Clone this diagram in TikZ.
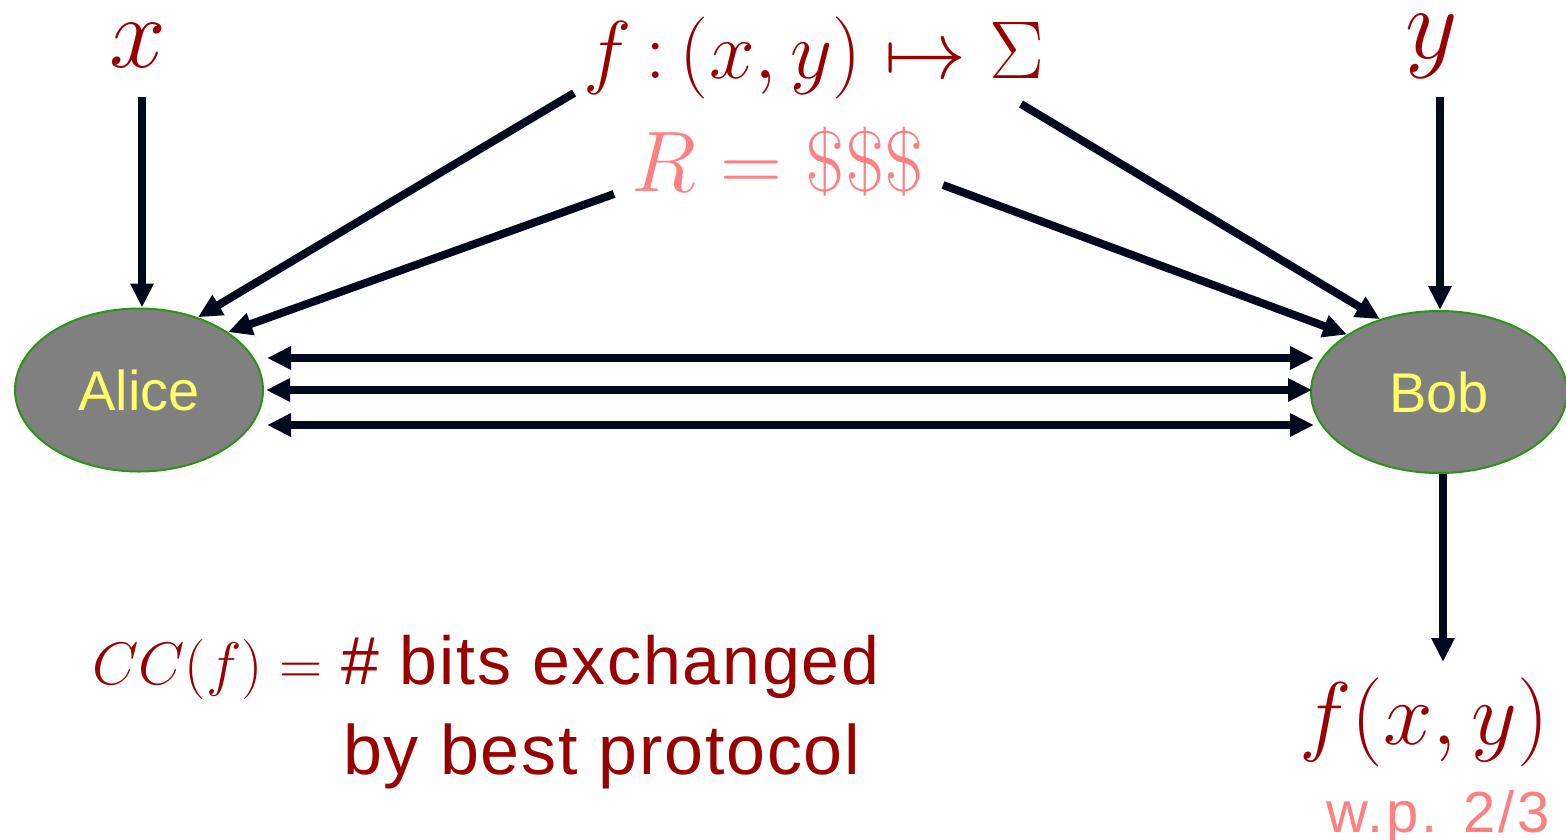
\RequirePackage{fix-cm}
\documentclass[tikz,border=0pt]{standalone}
\usepackage[no-math]{fontspec}
\setmainfont{Liberation Sans}
\usetikzlibrary{arrows.meta,shapes.geometric}
\definecolor{dred}{RGB}{153,0,0}
\definecolor{pinkc}{RGB}{255,128,128}
\definecolor{navy}{RGB}{0,8,30}
\definecolor{egreen}{RGB}{40,150,20}
\definecolor{ytext}{RGB}{255,255,102}
\begin{document}
\begin{tikzpicture}[x=1pt,y=-1pt,
  party/.style={ellipse,draw=egreen,line width=2pt,fill={rgb,255:red,128;green,128;blue,128},text=ytext,inner sep=0pt},
  conn/.style={draw=navy,line width=8pt,-{Triangle[length=24pt,width=22pt]}},
  dbl/.style={draw=navy,line width=8pt,{Triangle[length=24pt,width=22pt]}-{Triangle[length=24pt,width=22pt]}},
  lbl/.style={text=dred,inner sep=0pt},
  pnk/.style={text=pinkc,inner sep=0pt}]
\useasboundingbox (0,0) rectangle (1566,839);
\node[party,minimum width=248pt,minimum height=163pt] (alice) at (139,390) {\fontsize{56}{60}\selectfont Alice};
\node[party,minimum width=256pt,minimum height=162pt] (bob) at (1439,392) {\fontsize{56}{60}\selectfont Bob};
\node[lbl] (xl) at (138,46) {\fontsize{102}{110}\selectfont$x$};
\node[lbl] (yl) at (1432,46) {\fontsize{102}{110}\selectfont$y$};
\node[lbl] (fl) at (814,58) {\fontsize{82}{90}\selectfont$f\,{:}\,(x,y)\mapsto\Sigma$};
\node[pnk] (rl) at (778,162) {\fontsize{86}{90}\selectfont$R=\$\$\$$};
\node[lbl] (fxy) at (1424,722) {\fontsize{89}{90}\selectfont$f(x,y)$};
\node[pnk,anchor=base east] (wp) at (1550,832) {\fontsize{58}{60}\selectfont\addfontfeatures{LetterSpace=5}w.p. 2/3};
\node[lbl,anchor=base west] (cc1) at (92,684) {\fontsize{68}{70}\selectfont{\fontsize{60}{70}\selectfont$CC(f)=$} {\addfontfeatures{LetterSpace=2.7}\# bits exchanged}};
\node[lbl,anchor=base west] (cc2) at (343,774) {\fontsize{70}{70}\selectfont\addfontfeatures{LetterSpace=2.5}by best protocol};
\coordinate (xs) at (142,97);
\coordinate (ys) at (1440,97);
\coordinate (fa) at (574,93);
\coordinate (fb) at (1021,104);
\coordinate (ra) at (614,194);
\coordinate (rb) at (943,185);
\coordinate (out) at (1443,662);
\draw[conn] (xs) -- (xs |- alice.north);
\draw[conn] (ys) -- (ys |- bob.north);
\draw[conn] (fa) -- (alice.51);
\draw[conn] (ra) -- (alice.33);
\draw[conn] (fb) -- (bob.129);
\draw[conn] (rb) -- (bob.148);
\draw[conn] (out |- bob.south) -- (out);
\draw[dbl] ([xshift=3pt]alice.east |- 0,358) -- ([xshift=4pt]bob.west |- 0,358);
\draw[dbl] ([xshift=2pt]alice.east |- 0,390) -- ([xshift=2pt]bob.west |- 0,390);
\draw[dbl] ([xshift=3pt]alice.east |- 0,425) -- ([xshift=4pt]bob.west |- 0,425);
\end{tikzpicture}
\end{document}
